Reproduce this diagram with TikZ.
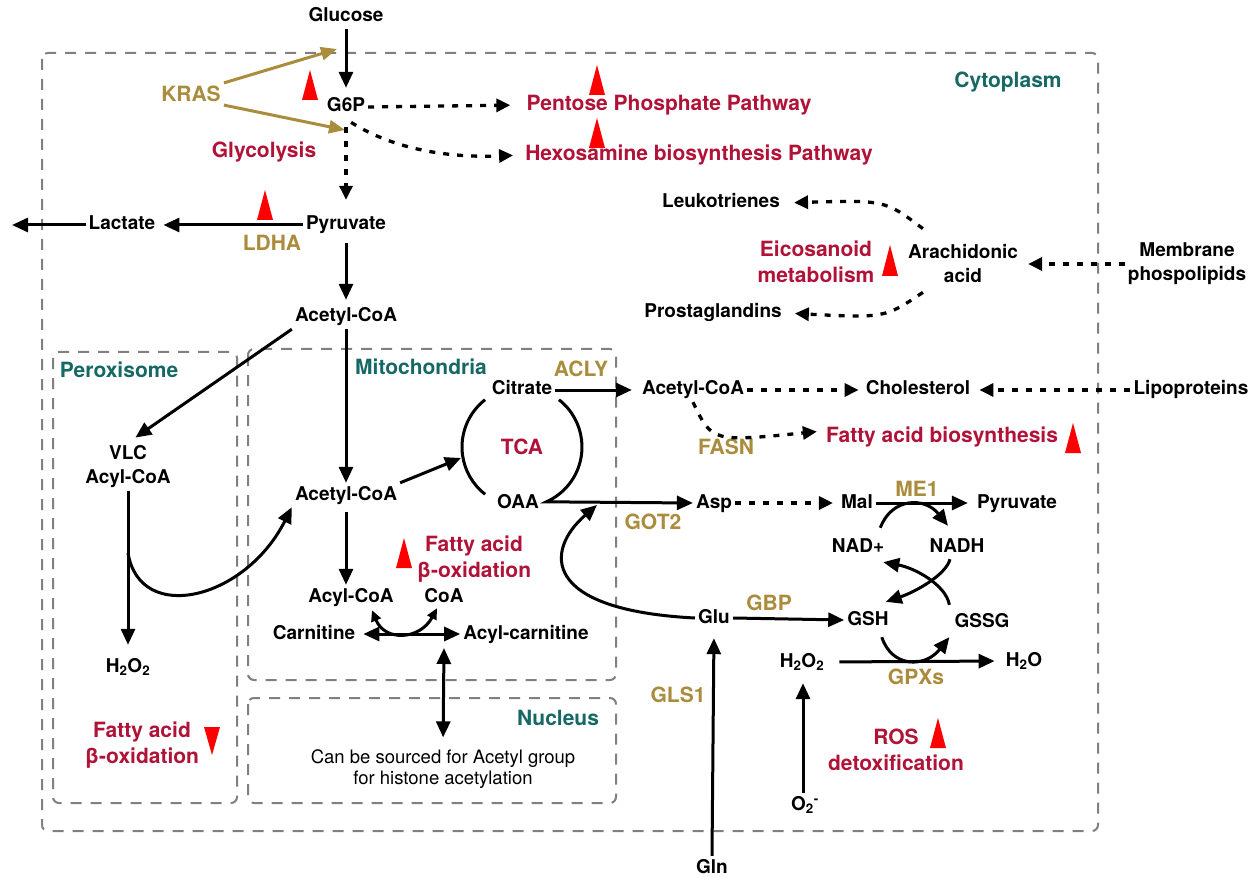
\documentclass[tikz,border=0pt]{standalone}
\usepackage{fontspec}
\setmainfont{TeX Gyre Heros}
\usetikzlibrary{arrows.meta}
\definecolor{crim}{RGB}{176,18,56}
\definecolor{goldc}{RGB}{170,140,60}
\definecolor{tealc}{RGB}{22,104,100}
\definecolor{trired}{RGB}{255,0,0}
\definecolor{boxgray}{RGB}{128,128,128}
\newcommand\uptri[3]{\fill[trired] (#1,#2) -- (#1-8,#3) -- (#1+8,#3) -- cycle;}
\tikzset{
 blk/.style={font=\fontsize{19}{24}\selectfont\bfseries, inner sep=3pt, text height=14pt, text depth=4pt},
 blktwo/.style={font=\fontsize{19}{24}\selectfont\bfseries, inner sep=3pt, align=center},
 redl/.style={font=\fontsize{21}{26}\selectfont\bfseries, text=crim, inner sep=3pt, align=center},
 goldl/.style={font=\fontsize{21}{25}\selectfont\bfseries, text=goldc, inner sep=3pt},
 tealt/.style={font=\fontsize{21}{25}\selectfont\bfseries, text=tealc, inner sep=3pt},
 plaintxt/.style={font=\fontsize{18.5}{21}\selectfont, align=center, inner sep=3pt},
 arr/.style={line width=3pt, -{Triangle[length=16pt,width=14pt]}},
 dblarr/.style={line width=3pt, {Triangle[length=16pt,width=14pt]}-{Triangle[length=16pt,width=14pt]}},
 smalldbl/.style={line width=3pt, {Triangle[length=11pt,width=10pt]}-{Triangle[length=11pt,width=10pt]}},
 darr/.style={line width=3.3pt, dash pattern=on 6pt off 8pt, -{Triangle[length=14pt,width=13pt]}},
 garr/.style={line width=3pt, draw=goldc, -{Triangle[length=16pt,width=13pt]}},
 compart/.style={draw=boxgray, line width=2pt, dash pattern=on 11pt off 9pt, rounded corners=6pt},
}
\begin{document}
\begin{tikzpicture}[x=1pt,y=-1pt]
\useasboundingbox (0,0) rectangle (1256,877);
\fill[white] (0,0) rectangle (1256,877);
% compartments
\draw[compart] (42,53) rectangle (1098,831);
\draw[compart] (53,352) rectangle (237,803);
\draw[compart] (248,349) rectangle (616,680);
\draw[compart] (248,698) rectangle (616,803);
% nodes
\node[blk] (glucose) at (346,17) {Glucose};
\node[blk] (g6p) at (346,107) {G6P};
\node[goldl] (kras) at (191,94) {KRAS};
\node[redl] (glyco) at (264,152) {Glycolysis};
\node[blk] (pyr) at (346,225) {Pyruvate};
\node[blk] (lac) at (122,225) {Lactate};
\node[goldl] (ldha) at (272,243) {LDHA};
\node[blk] (acc) at (346,317) {Acetyl-CoA};
\node[redl] (ppp) at (669,105) {Pentose Phosphate Pathway};
\node[redl] (hex) at (699,155) {Hexosamine biosynthesis Pathway};
\node[tealt] (cyto) at (1008,82) {Cytoplasm};
\node[blk] (leuk) at (721,203) {Leukotrienes};
\node[blk] (prost) at (713,313) {Prostaglandins};
\node[blktwo] (arach) at (963,264) {Arachidonic\\acid};
\node[blktwo] (memb) at (1187,264) {Membrane\\phospolipids};
\node[redl] (eico) at (816,262) {Eicosanoid\\metabolism};
\node[tealt] (perox) at (119,370) {Peroxisome};
\node[tealt] (mito) at (421,367) {Mitochondria};
\node[blktwo] (vlc) at (128,467) {VLC\\Acyl-CoA};
\node[blk] (h2o2p) at (128,667) {H\textsubscript{2}O\textsubscript{2}};
\node[redl] (pfa) at (142,745) {Fatty acid\\β-oxidation};
\node[blk] (macc) at (346,495) {Acetyl-CoA};
\node[blk] (citrate) at (522,390) {Citrate};
\node[blk] (oaa) at (518,503) {OAA};
\node[redl] (tca) at (522,447) {TCA};
\node[goldl] (acly) at (581,369) {ACLY};
\node[blk] (cacc) at (693,390) {Acetyl-CoA};
\node[blk] (chol) at (918,390) {Cholesterol};
\node[blk] (lipo) at (1191,390) {Lipoproteins};
\node[goldl] (fasn) at (726,447) {FASN};
\node[redl] (fab) at (942,437) {Fatty acid biosynthesis};
\node[blk] (asp) at (714,503) {Asp};
\node[goldl] (got2) at (653,522) {GOT2};
\node[blk] (mal) at (857,503) {Mal};
\node[goldl] (me1) at (917,489) {ME1};
\node[blk] (pyr2) at (1017,503) {Pyruvate};
\node[blk] (nadp) at (858,547) {NAD+};
\node[blk] (nadh) at (957,547) {NADH};
\node[blk] (gsh) at (868,620) {GSH};
\node[blk] (gssg) at (982,622) {GSSG};
\node[blk] (glu) at (714,618) {Glu};
\node[goldl] (gbp) at (769,603) {GBP};
\node[blk] (h2o2) at (802,662) {H\textsubscript{2}O\textsubscript{2}};
\node[blk] (h2o) at (1024,661) {H\textsubscript{2}O};
\node[goldl] (gpx) at (916,677) {GPXs};
\node[blk] (o2) at (805,805) {O\textsubscript{2}\textsuperscript{-}};
\node[blk] (gln) at (712,868) {Gln};
\node[goldl] (gls1) at (678,695) {GLS1};
\node[redl] (ros) at (896,750) {ROS\\detoxification};
\node[redl] (mfa) at (474,559) {Fatty acid\\β-oxidation};
\node[blk] (acyl) at (351,597) {Acyl-CoA};
\node[blk] (coa) at (444,597) {CoA};
\node[blk] (carn) at (314,634) {Carnitine};
\node[blk] (acarn) at (526,634) {Acyl-carnitine};
\node[tealt] (nucl) at (558,718) {Nucleus};
\node[plaintxt] (nuctext) at (443,769) {Can be sourced for Acetyl group\\for histone acetylation};
% up/down markers
\uptri{310}{70}{100}
\uptri{597}{65}{95}
\uptri{597}{118}{148}
\uptri{265}{190}{220}
\uptri{890}{245}{276}
\uptri{1073}{423}{453}
\uptri{404}{538}{568}
\uptri{938}{718}{748}
\fill[trired] (212,755) -- (204,727) -- (220,727) -- cycle;
% coordinates for free ends
\coordinate (k1) at (337,49);
\coordinate (k2) at (345,130);
\coordinate (exitL) at (12,225);
\coordinate (pc) at (128,553);
\coordinate (tcain) at (461,458);
\coordinate (oaaj) at (597,505);
\coordinate (ac1) at (444,648);
% connectors
\draw[arr, shorten >=7pt] (glucose.south) -- (g6p.north);
\draw[garr] (kras.north east) -- (k1);
\draw[garr] (kras.south east) -- (k2);
\draw[darr, shorten >=13pt] (g6p.east) -- (ppp.west);
\draw[darr, shorten >=9pt, shorten <=6pt] (g6p.south) .. controls (395,150) and (450,158) .. (hex.west);
\draw[darr, shorten <=8pt, shorten >=13pt] (g6p.south) -- (pyr.north);
\draw[arr, shorten >=5pt] (pyr.west) -- (lac.east);
\draw[arr] (lac.west) -- (exitL);
\draw[arr, shorten <=6pt, shorten >=5pt] (pyr.south) -- (acc.north);
\draw[arr, shorten >=9pt] (acc.south west) -- (vlc.north);
\draw[arr, shorten >=10pt] (vlc.south) -- (h2o2p.north);
\draw[arr] (pc) .. controls (140,625) and (245,600) .. (macc.south west);
\draw[arr] (acc.south) -- (macc.north);
\draw[arr] (macc.north east) -- (tcain);
\draw[line width=3pt] (tca.center) ++(232:60) arc[start angle=232,end angle=128,radius=60];
\draw[arr] (tca.center) ++(-52:60) arc[start angle=-52,end angle=66,radius=60] -- (asp.west);
\draw[arr, shorten >=7pt] (citrate.east) -- (cacc.west);
\draw[darr, shorten >=4pt] (cacc.east) -- (chol.west);
\draw[darr, shorten >=6pt] (lipo.west) -- (chol.east);
\draw[darr, shorten >=6pt] (cacc.south) .. controls (712,442) .. ([yshift=6pt]fab.west);
\draw[darr, shorten >=5pt] (asp.east) -- (mal.west);
\draw[arr, shorten >=6pt] (mal.east) -- (pyr2.west);
\draw[arr] ([shift={(-7,-7)}]nadp.north east) .. controls (892,497) and (925,497) .. ([shift={(-9,-9)}]nadh.north);
\draw[arr] ([shift={(-2,-5)}]gssg.north west) .. controls (946,585) and (915,568) .. ([shift={(-4,3)}]nadp.south east);
\draw[arr] ([xshift=-7pt]nadh.south) .. controls (946,575) and (915,592) .. ([shift={(-6,-6)}]gsh.north east);
\draw[arr] ([shift={(-10,5)}]gsh.south east) .. controls (892,668) and (925,668) .. ([shift={(-2,3)}]gssg.south west);
\draw[arr] (glu.east) -- (gsh.west);
\draw[arr] (glu.west) .. controls (540,610) and (545,550) .. (oaaj);
\draw[arr, shorten >=8pt] (gln.north) -- (glu.south);
\draw[arr, shorten >=9pt] ([xshift=-2pt]o2.north) -- ([xshift=1pt]h2o2.south);
\draw[arr, shorten <=12pt, shorten >=8pt] (h2o2.east) -- (h2o.west);
\draw[arr, shorten <=5pt] (macc.south) -- ([xshift=-5pt]acyl.north);
\draw[dblarr, shorten <=5pt] (carn.east) -- (acarn.west);
\draw[smalldbl] ([shift={(21,1)}]acyl.south) .. controls (385,642) and (420,640) .. ([shift={(-7,-1)}]coa.south);
\draw[dblarr, shorten >=9pt] (ac1) -- (nuctext.north);
\draw[darr, shorten >=7pt] (memb.west) -- (arach.east);
\draw[darr, shorten >=11pt] ([shift={(18,-13)}]arach.north west) .. controls (885,200) .. (leuk.east);
\draw[darr, shorten >=10pt] ([shift={(18,6)}]arach.south west) .. controls (885,318) .. (prost.east);
\end{tikzpicture}
\end{document}
